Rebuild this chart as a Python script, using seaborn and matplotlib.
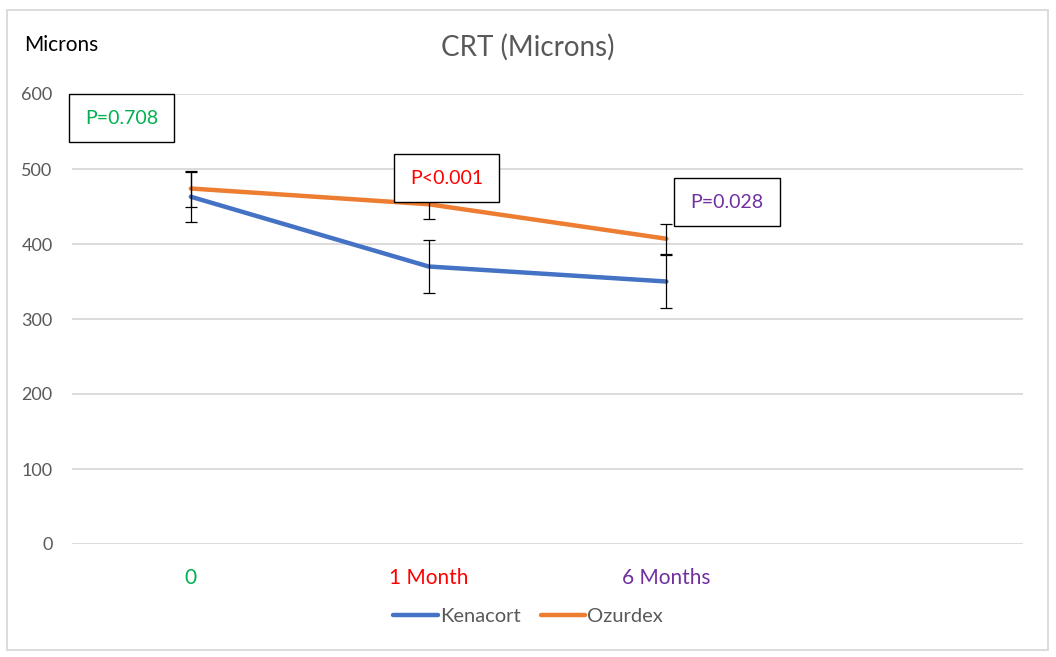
import matplotlib
matplotlib.use("Agg")
import matplotlib.pyplot as plt
import pandas as pd
import seaborn as sns
from matplotlib.patches import Rectangle

categories = ["0", "1 Month", "6 Months"]
kenacort = [463, 370, 350]
kenacort_err = [33, 35, 35]
ozurdex = [474, 453, 407]
ozurdex_err = [24, 20, 20]
p_labels = ["P=0.708", "P<0.001", "P=0.028"]
label_colors = ["#00B050", "#FF0000", "#7030A0"]

sns.set_theme(style="white")
plt.rcParams["font.family"] = ["Lato", "DejaVu Sans"]

df = pd.DataFrame({
    "time": categories * 2,
    "pos": list(range(len(categories))) * 2,
    "value": kenacort + ozurdex,
    "group": ["Kenacort"] * 3 + ["Ozurdex"] * 3,
})

fig = plt.figure(figsize=(10.56, 6.57), dpi=100)
ax = fig.add_axes([72 / 1056, 113 / 657, 951 / 1056, 450 / 657])

palette = {"Kenacort": "#4472C4", "Ozurdex": "#ED7D31"}
sns.lineplot(data=df, x="pos", y="value", hue="group", palette=palette,
             linewidth=3.2, ax=ax, legend=False, zorder=3)

for vals, errs in [(kenacort, kenacort_err), (ozurdex, ozurdex_err)]:
    ax.errorbar(range(len(categories)), vals, yerr=errs, fmt="none",
                ecolor="black", elinewidth=0.9, capsize=4.5, capthick=0.9, zorder=4)

ax.set_xlim(-0.5, 3.5)
ax.set_ylim(0, 600)
ax.set_yticks(range(0, 601, 100))
ax.yaxis.grid(True, color="#D9D9D9", linewidth=1.3)
ax.xaxis.grid(False)
for s in ax.spines.values():
    s.set_visible(False)
ax.tick_params(axis="y", length=0, labelsize=13, labelcolor="#595959", pad=14)
ax.set_xticks(range(len(categories)))
ax.set_xticklabels(categories, fontsize=15)
ax.tick_params(axis="x", length=0, pad=17)
for lab, c in zip(ax.get_xticklabels(), label_colors):
    lab.set_color(c)
ax.set_xlabel("")
ax.set_ylabel("")

# p-value boxes
box_pos = [(-0.29, 568), (1.077, 488), (2.255, 456)]
for (x, y), txt, c in zip(box_pos, p_labels, label_colors):
    ax.text(x, y, txt, color=c, fontsize=14, ha="center", va="center", zorder=6,
            bbox=dict(boxstyle="square,pad=0.82", facecolor="white",
                      edgecolor="black", linewidth=1))

fig.text(0.5, 1 - 47 / 657, "CRT (Microns)", ha="center", va="center",
         fontsize=20, color="#595959")
fig.text(24 / 1056, 1 - 45 / 657, "Microns", ha="left", va="center",
         fontsize=15, color="black")

handles = [plt.Line2D([], [], color=palette[k], linewidth=3.2) for k in palette]
fig.legend(handles, list(palette), loc="center", bbox_to_anchor=(0.5, 1 - 616 / 657),
           ncol=2, frameon=False, fontsize=14.5, handlelength=2.2,
           handletextpad=0.1, columnspacing=1.0, labelcolor="#595959")

fig.patches.append(Rectangle((7 / 1056, 7 / 657), 1041 / 1056, 640 / 657,
                             transform=fig.transFigure, fill=False,
                             edgecolor="#D9D9D9", linewidth=1.3))

fig.savefig("out.png", dpi=100)
